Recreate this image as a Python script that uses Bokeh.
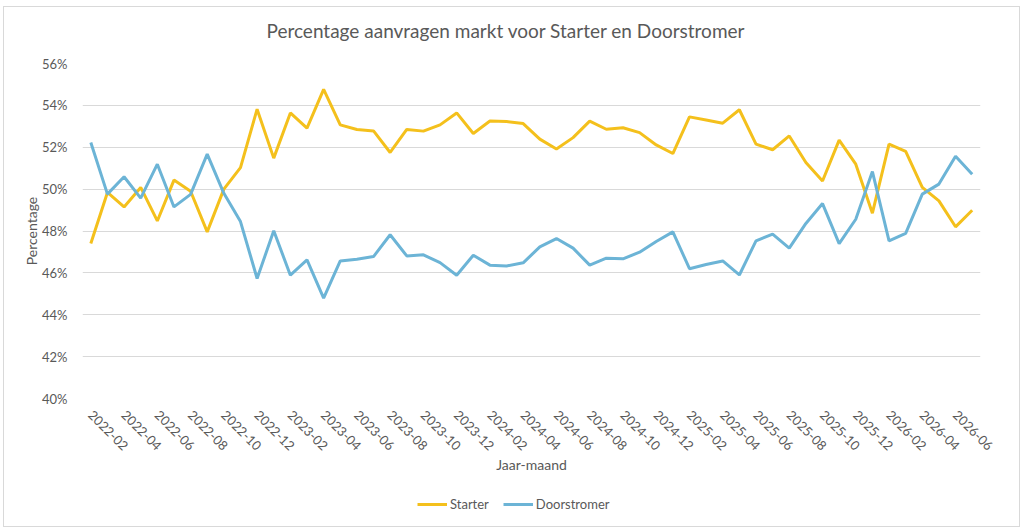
from bokeh.plotting import figure
from bokeh.models import Range1d, FixedTicker, PrintfTickFormatter, Legend, LegendItem, ColumnDataSource
from bokeh.layouts import column
from bokeh.embed import file_html
from bokeh.resources import INLINE
import math

months = ["2022-02", "2022-03", "2022-04", "2022-05", "2022-06", "2022-07", "2022-08", "2022-09",
          "2022-10", "2022-11", "2022-12", "2023-01", "2023-02", "2023-03", "2023-04", "2023-05",
          "2023-06", "2023-07", "2023-08", "2023-09", "2023-10", "2023-11", "2023-12", "2024-01",
          "2024-02", "2024-03", "2024-04", "2024-05", "2024-06", "2024-07", "2024-08", "2024-09",
          "2024-10", "2024-11", "2024-12", "2025-01", "2025-02", "2025-03", "2025-04", "2025-05",
          "2025-06", "2025-07", "2025-08", "2025-09", "2025-10", "2025-11", "2025-12", "2026-01",
          "2026-02", "2026-03", "2026-04", "2026-05", "2026-06", "2026-07"]

starter = [47.40, 49.84, 49.15, 50.08, 48.48, 50.43, 49.90, 47.96, 50.00, 51.03,
           53.82, 51.48, 53.64, 52.91, 54.76, 53.07, 52.85, 52.78, 51.75, 52.85,
           52.77, 53.07, 53.64, 52.66, 53.25, 53.23, 53.13, 52.39, 51.92, 52.46,
           53.25, 52.86, 52.93, 52.70, 52.11, 51.70, 53.45, 53.30, 53.15, 53.79,
           52.15, 51.88, 52.54, 51.27, 50.39, 52.34, 51.19, 48.85, 52.15, 51.80,
           50.08, 49.44, 48.20, 48.99]

doorstromer = [52.23, 49.76, 50.59, 49.57, 51.19, 49.15, 49.75, 51.67, 49.80, 48.45,
               45.73, 48.01, 45.89, 46.62, 44.79, 46.57, 46.65, 46.78, 47.82, 46.81,
               46.86, 46.49, 45.89, 46.84, 46.37, 46.33, 46.48, 47.24, 47.64, 47.18,
               46.37, 46.70, 46.67, 46.99, 47.50, 47.96, 46.20, 46.40, 46.57, 45.90,
               47.53, 47.85, 47.18, 48.36, 49.31, 47.40, 48.56, 50.84, 47.53, 47.89,
               49.76, 50.24, 51.57, 50.71]

y_ticks = [40, 42, 44, 46, 48, 50, 52, 54, 56]

TITLE = "Percentage aanvragen markt voor Starter en Doorstromer"
FONT = "Lato"
GRAY = "#595959"
C_STARTER = "#F4C01C"
C_DOOR = "#6CB4D6"

idx = list(range(len(months)))
src = ColumnDataSource(dict(x=idx, starter=starter, doorstromer=doorstromer))

W = 1015

# Title strip above the chart
tf = figure(width=W, height=42, x_range=Range1d(0, 1), y_range=Range1d(0, 1),
            output_backend="svg", toolbar_location=None, title=TITLE,
            min_border_left=0, min_border_right=0, min_border_top=39, min_border_bottom=0)
tf.axis.visible = False
tf.grid.visible = False
tf.outline_line_color = None
tf.border_fill_color = "white"
tf.title.align = "left"
tf.title.vertical_align = "bottom"
tf.title.text_font = FONT
tf.title.text_font_size = "19px"
tf.title.text_font_style = "normal"
tf.title.text_color = GRAY
tf.title.standoff = 10
tf.title.offset = 184

p = figure(width=W, height=436, x_range=Range1d(-0.5, len(months) - 0.5),
           y_range=Range1d(40, 56), output_backend="svg", toolbar_location=None,
           min_border_left=78, min_border_right=39, min_border_top=14, min_border_bottom=87)
p.outline_line_color = None
p.background_fill_color = "white"
p.border_fill_color = "white"

r1 = p.line("x", "starter", source=src, line_color=C_STARTER, line_width=3)
r2 = p.line("x", "doorstromer", source=src, line_color=C_DOOR, line_width=3)

p.xgrid.visible = False
p.ygrid.grid_line_color = "#d9d9d9"
p.ygrid.grid_line_width = 1

yax = p.yaxis[0]
yax.ticker = FixedTicker(ticks=y_ticks)
yax.formatter = PrintfTickFormatter(format="%d%%")
yax.axis_line_color = None
yax.major_tick_line_color = None
yax.minor_tick_line_color = None
yax.major_label_text_font = FONT
yax.major_label_text_font_size = "13px"
yax.major_label_text_color = GRAY
yax.major_label_standoff = 9
yax.axis_label = "Percentage"
yax.axis_label_text_font = FONT
yax.axis_label_text_font_size = "14px"
yax.axis_label_text_font_style = "normal"
yax.axis_label_text_color = GRAY
yax.axis_label_standoff = -1

xax = p.xaxis[0]
label_ticks = idx[::2]
xax.ticker = FixedTicker(ticks=label_ticks)
xax.major_label_overrides = {i: months[i] for i in label_ticks}
xax.major_label_orientation = -math.pi / 4
xax.axis_line_color = None
xax.major_tick_line_color = None
xax.minor_tick_line_color = None
xax.major_label_text_font = FONT
xax.major_label_text_font_size = "13px"
xax.major_label_text_color = GRAY
xax.major_label_standoff = 8
xax.axis_label = "Jaar-maand"
xax.axis_label_text_font = FONT
xax.axis_label_text_font_size = "14px"
xax.axis_label_text_font_style = "normal"
xax.axis_label_text_color = GRAY
xax.axis_label_standoff = -2

# Legend strip below the chart (its lines lie outside the ranges, only the legend shows)
lf = figure(width=W, height=41, x_range=Range1d(0, 1), y_range=Range1d(0, 1),
            output_backend="svg", toolbar_location=None,
            min_border_left=0, min_border_right=0, min_border_top=0, min_border_bottom=0)
lf.axis.visible = False
lf.grid.visible = False
lf.outline_line_color = None
lf.border_fill_color = "white"
lr1 = lf.line([5, 6], [5, 6], line_color=C_STARTER, line_width=3)
lr2 = lf.line([5, 6], [5, 6], line_color=C_DOOR, line_width=3)
legend = Legend(items=[LegendItem(label="Starter", renderers=[lr1]),
                       LegendItem(label="Doorstromer", renderers=[lr2])],
                orientation="horizontal", location=(335, 12))
legend.border_line_color = None
legend.background_fill_alpha = 0
legend.label_text_font = FONT
legend.label_text_font_size = "13px"
legend.label_text_color = GRAY
legend.glyph_width = 30
legend.spacing = 14
legend.label_standoff = 3
legend.padding = 5
legend.margin = 0
lf.add_layout(legend, "center")

layout = column(tf, p, lf, spacing=0, margin=(6, 0, 0, 3),
                styles={"border": "1px solid #d9d9d9"})

open("out.html", "w").write(file_html(layout, INLINE))
